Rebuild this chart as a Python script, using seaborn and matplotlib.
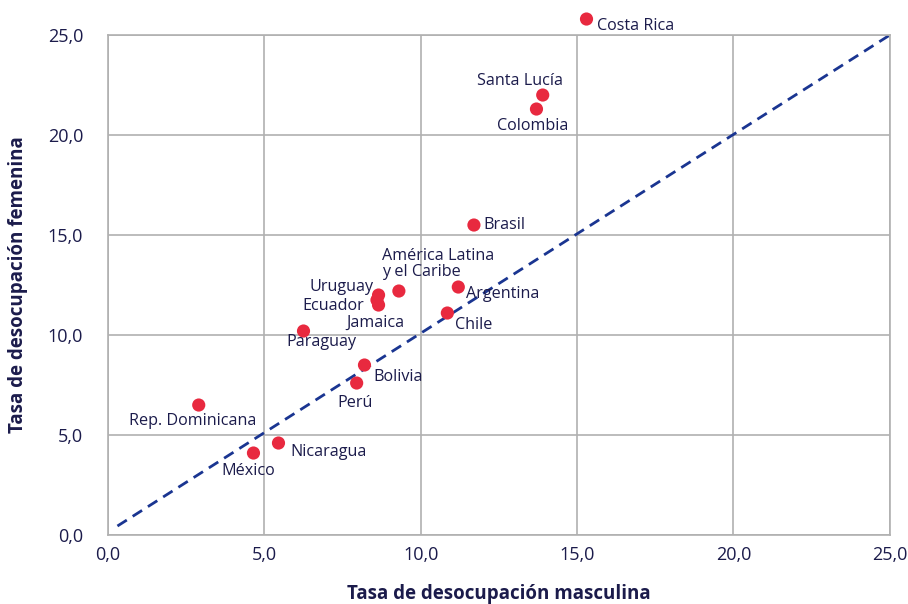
import pandas as pd
import matplotlib
matplotlib.use("Agg")
import matplotlib.pyplot as plt
import seaborn as sns

# datos
paises = ["Costa Rica", "Santa Lucía", "Colombia", "Brasil", "América Latina\ny el Caribe",
          "Argentina", "Uruguay", "Ecuador", "Jamaica", "Chile", "Paraguay", "Bolivia",
          "Perú", "Rep. Dominicana", "Nicaragua", "México"]
masculina = [15.3, 13.9, 13.7, 11.7, 9.3, 11.2, 8.65, 8.6, 8.65, 10.85, 6.25, 8.2,
             7.95, 2.9, 5.45, 4.65]
femenina = [25.8, 22.0, 21.3, 15.5, 12.2, 12.4, 12.0, 11.75, 11.5, 11.1, 10.2, 8.5,
            7.6, 6.5, 4.6, 4.1]
linea_x = [0.3, 25.0]
linea_y = [0.45, 25.0]
ticks = [0, 5, 10, 15, 20, 25]

df = pd.DataFrame({"pais": paises, "masculina": masculina, "femenina": femenina})

# desplazamiento de etiquetas (pixeles) y alineacion
etiquetas = {
    "Costa Rica": (10, -7, "left"),
    "Santa Lucía": (20, 14, "right"),
    "Colombia": (32, -17, "right"),
    "Brasil": (9, 0, "left"),
    "América Latina\ny el Caribe": (-17, 27, "left"),
    "Argentina": (8, -7, "left"),
    "Uruguay": (-5, 8, "right"),
    "Ecuador": (-13, -6, "right"),
    "Jamaica": (-3, -18, "center"),
    "Chile": (8, -12, "left"),
    "Paraguay": (-17, -11, "left"),
    "Bolivia": (9, -12, "left"),
    "Perú": (-2, -20, "center"),
    "Rep. Dominicana": (-6, -16, "center"),
    "Nicaragua": (12, -9, "left"),
    "México": (-5, -18, "center"),
}

sns.set_style("white")
plt.rcParams["font.family"] = ["Open Sans", "DejaVu Sans"]
azul_texto = "#1b1b4b"

fig = plt.figure(figsize=(9.08, 6.04), dpi=100)
ax = fig.add_axes([0.119, 0.1142, 0.861, 0.8278])

sns.lineplot(x=linea_x, y=linea_y, ax=ax, color="#1a3591", linestyle=(0, (4, 2.5)),
             linewidth=2)
sns.scatterplot(data=df, x="masculina", y="femenina", ax=ax, color="#e8293f", s=90,
                edgecolor="none", clip_on=False, zorder=3)

for _, fila in df.iterrows():
    dx, dy, ha = etiquetas[fila["pais"]]
    ax.annotate(fila["pais"], (fila["masculina"], fila["femenina"]),
                xytext=(dx, dy), textcoords="offset pixels", ha=ha, va="center",
                fontsize=11.6, color=azul_texto, linespacing=1.0,
                annotation_clip=False)

ax.set_xlim(0, 25)
ax.set_ylim(0, 25)
ax.set_xticks(ticks)
ax.set_yticks(ticks)
ax.set_xticklabels([f"{t:.1f}".replace(".", ",") for t in ticks])
ax.set_yticklabels([f"{t:.1f}".replace(".", ",") for t in ticks])
ax.tick_params(axis="both", length=0, labelsize=13, labelcolor=azul_texto)
ax.tick_params(axis="y", pad=18)
ax.tick_params(axis="x", pad=8)
ax.grid(True, color="#b0b0b0", linewidth=1.2)
for lado in ax.spines.values():
    lado.set_color("#b0b0b0")
    lado.set_linewidth(1.2)

ax.set_xlabel("Tasa de desocupación masculina", fontsize=13.5, fontweight="bold",
              color=azul_texto, labelpad=14)
ax.set_ylabel("Tasa de desocupación femenina", fontsize=13.5, fontweight="bold",
              color=azul_texto, labelpad=14)

fig.savefig("out.png", dpi=100)
